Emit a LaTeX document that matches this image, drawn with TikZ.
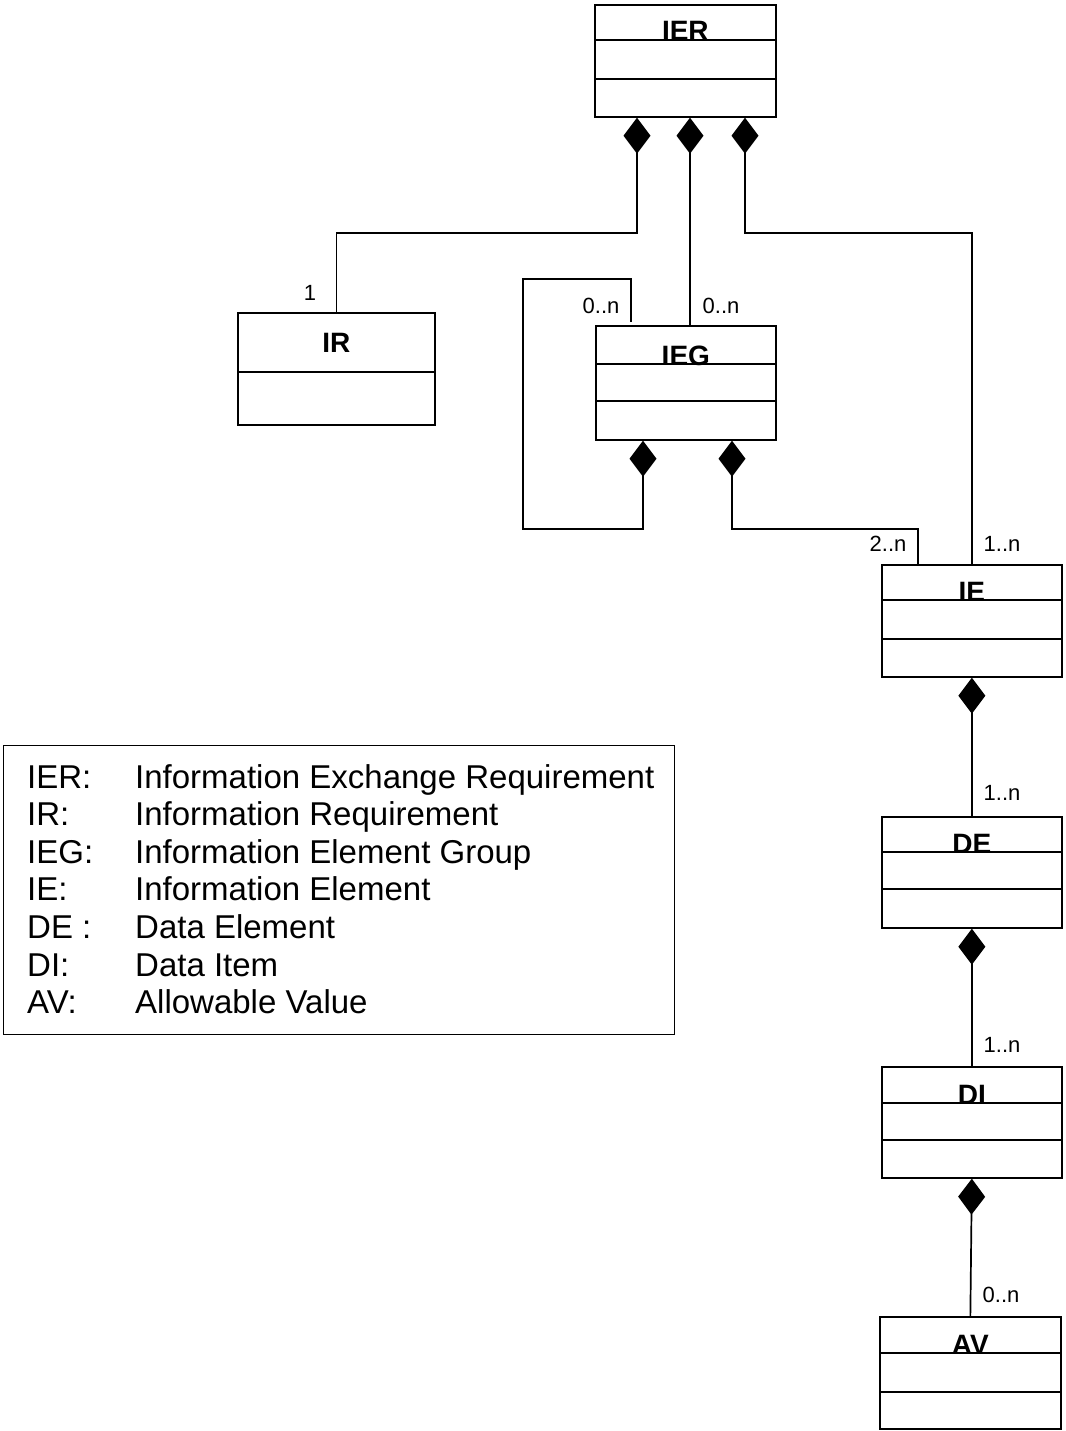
\documentclass[tikz,border=0pt]{standalone}
\usepackage{fontspec}
\setmainfont{Liberation Sans}
\usetikzlibrary{arrows.meta,calc}

% class box: name, x, y, width, height, first divider, second divider, title
\newcommand\umlclass[8]{%
  \node[classbox, minimum width=#4pt, minimum height=#5pt] (#1) at (#2,#3) {};
  \draw[classline] ($(#1.north west)+(0,#6)$) -- ($(#1.north east)+(0,#6)$);
  \draw[classline] ($(#1.north west)+(0,#7)$) -- ($(#1.north east)+(0,#7)$);
  \node[classtitle] (#1-title) at ($(#1.north)+(0,#6+1)$) {#8};
}

\begin{document}
\begin{tikzpicture}[x=1pt,y=-1pt,
  classbox/.style={draw,line width=1.7pt,inner sep=0pt,anchor=north west,fill=white},
  classline/.style={line width=1.7pt},
  classtitle/.style={anchor=base,inner sep=0pt,font=\fontsize{28}{30}\selectfont\bfseries},
  comp/.style={line width=1.7pt,{Diamond[length=36pt,width=27pt]}-},
  mult/.style={inner sep=0pt,font=\fontsize{22}{24}\selectfont},
  legkey/.style={anchor=base west,inner sep=0pt,font=\fontsize{33}{38}\selectfont},
]
\useasboundingbox (0,0) rectangle (1065,1431);

% classes
\umlclass{IER}{594}{4}{181}{112}{36}{75}{IER}
\umlclass{IEG}{595}{325}{180}{114}{39}{76}{IEG}
\umlclass{IE}{881}{564}{180}{112}{36}{75}{IE}
\umlclass{DE}{881}{816}{180}{111}{36}{73}{DE}
\umlclass{DI}{881}{1066}{180}{111}{37}{74}{DI}
\umlclass{AV}{879}{1316}{181}{112}{37}{76}{AV}

% IR has a single compartment line
\node[classbox, minimum width=197pt, minimum height=112pt] (IR) at (237,312) {};
\draw[line width=2.4pt] ($(IR.north west)+(0,60)$) -- ($(IR.north east)+(0,60)$);
\node[classtitle] (IR-title) at ($(IR.north)+(0,40)$) {IR};

% compositions from IER
\draw[comp] ($(IER.south west)+(43,0)$) -- ++(0,115) -| (IR.north);
\draw[comp] ($(IER.south west)+(96,0)$) -- ($(IEG.north west)+(95,0)$);
\draw[comp] ($(IER.south west)+(151,0)$) -- ++(0,115) -| (IE.north);

% IEG: recursive composition and composition of IE
\draw[comp] ($(IEG.south west)+(48,0)$) -- ++(0,88) -| ++(-120,-250)
  -| ($(IEG.north west)+(36,-3)$);
\draw[comp] ($(IEG.south west)+(137,0)$) -- ++(0,88) -| ($(IE.north west)+(37,0)$);

% chain IE - DE - DI - AV
\draw[comp] (IE.south) -- (DE.north);
\draw[comp] (DE.south) -- (DI.north);
\draw[comp] (DI.south) -- (AV.north);

% multiplicities
\node[mult] (m-ir)   at (310,293)  {1};
\node[mult] (m-iegs) at (601,306)  {0..n};
\node[mult] (m-ieg)  at (721,306)  {0..n};
\node[mult] (m-ie2)  at (888,544)  {2..n};
\node[mult] (m-ie1)  at (1002,544) {1..n};
\node[mult] (m-de)   at (1002,793) {1..n};
\node[mult] (m-di)   at (1002,1045){1..n};
\node[mult] (m-av)   at (1001,1295){0..n};

% legend
\node[draw,line width=1.4pt,inner sep=0pt,anchor=north west,
      minimum width=671pt,minimum height=289pt] (legend) at (3,745) {};
\foreach \k/\v [count=\i from 0] in {IER:/Information Exchange Requirement,
    IR:/Information Requirement, IEG:/Information Element Group,
    IE:/Information Element, DE :/Data Element, DI:/Data Item,
    AV:/Allowable Value}{
  \node[legkey] (key-\i) at (27,788+37.6*\i) {\k};
  \node[legkey] (val-\i) at (135,788+37.6*\i) {\v};
}
\end{tikzpicture}
\end{document}
